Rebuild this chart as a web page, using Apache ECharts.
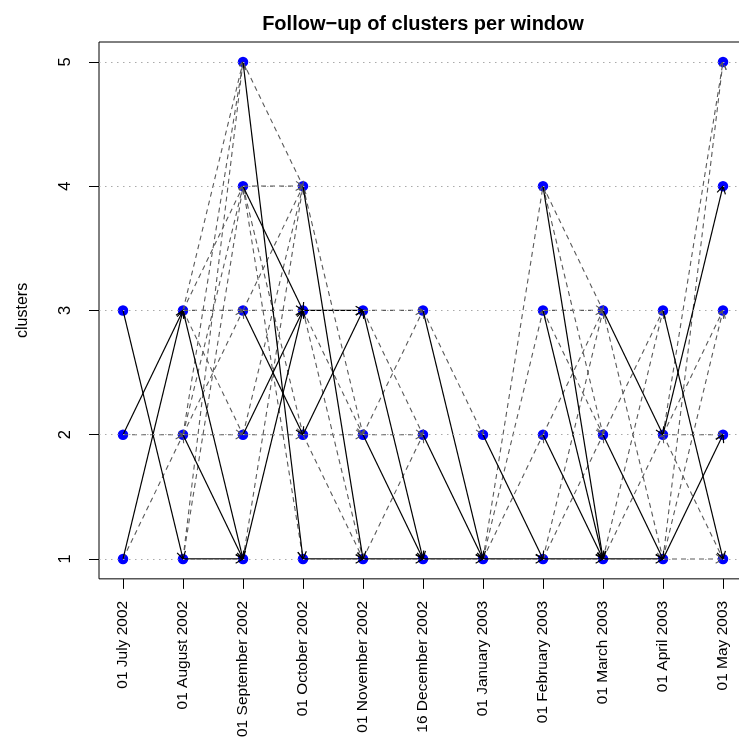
<!DOCTYPE html>
<html>
<head>
<meta charset="utf-8">
<script src="https://cdn.jsdelivr.net/npm/echarts@6/dist/echarts.min.js"></script>
<style>
  html, body { margin: 0; padding: 0; background: #ffffff; overflow: hidden; }
  #chart { width: 760px; height: 740px; }
</style>
</head>
<body>
<div id="chart"></div>
<script>
// Time windows (x axis) and the clusters found in each window
const windowLabels = [
  '01 July 2002', '01 August 2002', '01 September 2002', '01 October 2002',
  '01 November 2002', '16 December 2002', '01 January 2003', '01 February 2003',
  '01 March 2003', '01 April 2003', '01 May 2003'
];
const windowClusters = [
  [1, 2, 3], [1, 2, 3], [1, 2, 3, 4, 5], [1, 2, 3, 4], [1, 2, 3], [1, 2, 3],
  [1, 2], [1, 2, 3, 4], [1, 2, 3], [1, 2, 3], [1, 2, 3, 4, 5]
];
const clusterLevels = [1, 2, 3, 4, 5];

// Transitions: [window, cluster in that window, cluster in the next window]
// Main follow-up of each cluster (solid arrows)
const mainLinks = [
  [1, 3, 1], [1, 2, 3], [1, 1, 3],
  [2, 3, 1], [2, 2, 1], [2, 1, 1],
  [3, 5, 1], [3, 4, 3], [3, 3, 2], [3, 2, 3], [3, 1, 3],
  [4, 4, 1], [4, 3, 3], [4, 2, 3], [4, 1, 1],
  [5, 3, 1], [5, 2, 1], [5, 1, 1],
  [6, 3, 1], [6, 2, 1], [6, 1, 1],
  [7, 2, 1], [7, 1, 1],
  [8, 4, 1], [8, 3, 1], [8, 2, 1], [8, 1, 1],
  [9, 3, 2], [9, 2, 1], [9, 1, 1],
  [10, 3, 1], [10, 2, 4], [10, 1, 2]
];
// Secondary overlaps (dashed arrows)
const otherLinks = [
  [1, 2, 2], [1, 1, 2],
  [2, 3, 5], [2, 3, 4], [2, 3, 3], [2, 3, 2], [2, 2, 5], [2, 2, 4], [2, 2, 3], [2, 2, 2], [2, 1, 5], [2, 1, 4],
  [3, 5, 4], [3, 4, 4], [3, 4, 2], [3, 4, 1], [3, 3, 4], [3, 3, 3], [3, 2, 4], [3, 2, 2], [3, 1, 4],
  [4, 4, 2], [4, 3, 2], [4, 3, 1], [4, 2, 2], [4, 2, 1],
  [5, 3, 3], [5, 3, 2], [5, 2, 3], [5, 2, 2], [5, 1, 2],
  [6, 3, 2],
  [7, 1, 4], [7, 1, 3], [7, 1, 2],
  [8, 4, 3], [8, 4, 2], [8, 3, 3], [8, 3, 2], [8, 2, 3], [8, 1, 3], [8, 1, 2],
  [9, 3, 1], [9, 2, 3], [9, 1, 3], [9, 1, 2],
  [10, 2, 5], [10, 1, 5], [10, 2, 2], [10, 1, 1], [10, 2, 1], [10, 1, 3], [10, 2, 3]
];

const FONT = '"Liberation Sans", Arial, Helvetica, sans-serif';
const windowIndex = windowLabels.map((_, i) => i + 1);

const nodes = [];
windowClusters.forEach((list, i) => list.forEach(c => nodes.push([i + 1, c])));

const toSegments = links => links.map(([w, a, b]) => [w, a, w + 1, b]);

function arrowRenderer(color, dash, width) {
  return function (params, api) {
    const p1 = api.coord([api.value(0), api.value(1)]);
    const p2 = api.coord([api.value(2), api.value(3)]);
    const ang = Math.atan2(p2[1] - p1[1], p2[0] - p1[0]);
    const len = 8.5, spread = Math.PI / 6;
    const w1 = [p2[0] - len * Math.cos(ang - spread), p2[1] - len * Math.sin(ang - spread)];
    const w2 = [p2[0] - len * Math.cos(ang + spread), p2[1] - len * Math.sin(ang + spread)];
    const style = { stroke: color, lineWidth: width, fill: null, lineDash: dash };
    return {
      type: 'group',
      children: [
        { type: 'line', shape: { x1: p1[0], y1: p1[1], x2: p2[0], y2: p2[1] }, style: style },
        { type: 'polyline', shape: { points: [w1, p2, w2] }, style: style }
      ]
    };
  };
}

const chart = echarts.init(document.getElementById('chart'), null, { renderer: 'canvas' });
chart.setOption({
  animation: false,
  backgroundColor: '#ffffff',
  title: {
    text: 'Follow\u2212up of clusters per window',
    left: 418,
    top: 9,
    textAlign: 'center',
    textStyle: { fontFamily: FONT, fontSize: 20, fontWeight: 'bold', color: '#000' }
  },
  grid: {
    left: 99, top: 42, width: 648, height: 537,
    show: true, borderColor: '#000', borderWidth: 1, backgroundColor: 'transparent'
  },
  xAxis: {
    type: 'value', min: 0.6, max: 11.4,
    axisLine: { show: false },
    splitLine: { show: false },
    axisTick: { show: true, customValues: windowIndex, length: 10, lineStyle: { color: '#000' } },
    axisLabel: {
      customValues: windowIndex, rotate: 90, margin: 22,
      fontFamily: FONT, fontSize: 15.5, color: '#000',
      formatter: v => windowLabels[Math.round(v) - 1] || ''
    }
  },
  yAxis: {
    type: 'value', min: 0.84, max: 5.16,
    name: 'clusters', nameLocation: 'middle', nameRotate: 90, nameGap: 68,
    nameTextStyle: { fontFamily: FONT, fontSize: 16, color: '#000' },
    axisLine: { show: false },
    splitLine: { show: false },
    axisTick: { show: true, customValues: clusterLevels, length: 10, lineStyle: { color: '#000' } },
    axisLabel: {
      customValues: clusterLevels, rotate: 90, margin: 25,
      fontFamily: FONT, fontSize: 16.5, color: '#000',
      formatter: v => String(Math.round(v))
    }
  },
  series: [
    {
      type: 'scatter', data: [], z: 1, silent: true,
      markLine: {
        silent: true, symbol: ['none', 'none'], label: { show: false },
        lineStyle: { color: '#aaaaaa', width: 1, type: [1.5, 4.5] },
        emphasis: { disabled: true },
        data: clusterLevels.map(v => ({ yAxis: v }))
      }
    },
    {
      type: 'scatter', data: nodes, z: 2, silent: true,
      symbol: 'circle', symbolSize: 10.5,
      itemStyle: { color: '#0000ff', opacity: 1 }
    },
    {
      type: 'custom', data: toSegments(otherLinks), z: 3, silent: true,
      encode: { x: [0, 2], y: [1, 3] },
      renderItem: arrowRenderer('#5a5a5a', [5, 4], 1.1)
    },
    {
      type: 'custom', data: toSegments(mainLinks), z: 4, silent: true,
      encode: { x: [0, 2], y: [1, 3] },
      renderItem: arrowRenderer('#000000', null, 1.2)
    }
  ]
});
</script>
</body>
</html>
